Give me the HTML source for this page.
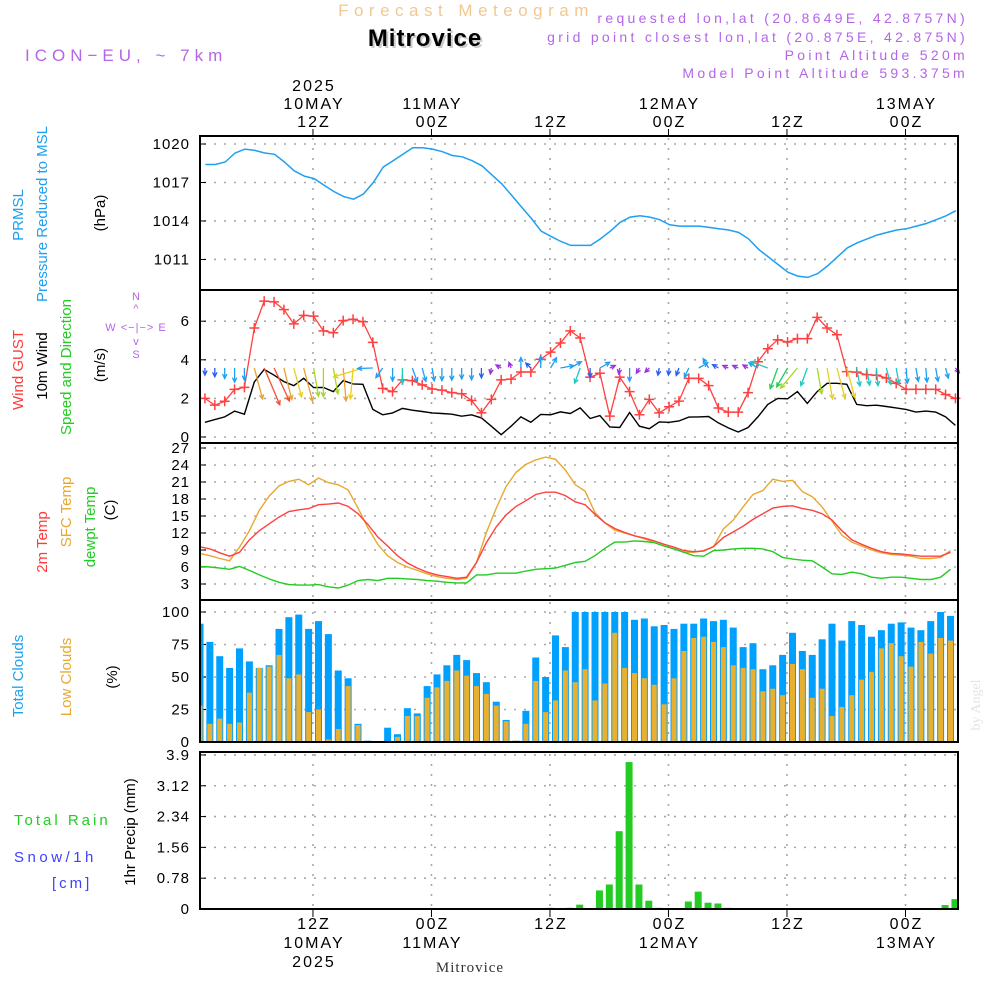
<!DOCTYPE html>
<html><head><meta charset="utf-8">
<style>
html,body{margin:0;padding:0;background:#fff;}
svg{display:block;font-family:"Liberation Sans",sans-serif;}
</style></head>
<body>
<svg id="chart" width="1000" height="1000" viewBox="0 0 1000 1000" xmlns="http://www.w3.org/2000/svg">
  <text x="466" y="16" text-anchor="middle" font-size="17" letter-spacing="5.5" fill="#f2c890">Forecast Meteogram</text>
  <text x="427" y="48" text-anchor="middle" font-size="24" font-weight="bold" fill="#cccccc" letter-spacing="1">Mitrovice</text>
  <text x="425" y="46" text-anchor="middle" font-size="24" font-weight="bold" fill="#000" letter-spacing="1">Mitrovice</text>
  <text x="25" y="61" font-size="17" letter-spacing="5" fill="#b565e8">ICON−EU, ~ 7km</text>
  <g font-size="14" letter-spacing="3.3" fill="#b565e8" text-anchor="end">
    <text x="968" y="23">requested lon,lat (20.8649E, 42.8757N)</text>
    <text x="968" y="42">grid point closest lon,lat (20.875E, 42.875N)</text>
    <text x="968" y="60">Point Altitude 520m</text>
    <text x="968" y="78">Model Point Altitude 593.375m</text>
  </g>
  <text x="980" y="705" font-size="14" fill="#e4e4e4" font-family="Liberation Serif, serif" transform="rotate(-90 980 705)" text-anchor="middle">by Angel</text>

  <g font-size="15">
    <text transform="translate(23,215) rotate(-90)" text-anchor="middle" fill="#1ea0f0">PRMSL</text>
    <text transform="translate(47,214) rotate(-90)" text-anchor="middle" fill="#1ea0f0">Pressure Reduced to MSL</text>
    <text transform="translate(105,213) rotate(-90)" text-anchor="middle" fill="#000">(hPa)</text>
    <text transform="translate(23,370) rotate(-90)" text-anchor="middle" fill="#ff3b3b">Wind GUST</text>
    <text transform="translate(47,366) rotate(-90)" text-anchor="middle" fill="#000">10m Wind</text>
    <text transform="translate(71,367) rotate(-90)" text-anchor="middle" fill="#22cc22">Speed and Direction</text>
    <text transform="translate(105,365) rotate(-90)" text-anchor="middle" fill="#000">(m/s)</text>
    <text transform="translate(47,542) rotate(-90)" text-anchor="middle" fill="#ff3b3b">2m Temp</text>
    <text transform="translate(71,512) rotate(-90)" text-anchor="middle" fill="#e8a830">SFC Temp</text>
    <text transform="translate(95,527) rotate(-90)" text-anchor="middle" fill="#22cc22">dewpt Temp</text>
    <text transform="translate(115,510) rotate(-90)" text-anchor="middle" fill="#000">(C)</text>
    <text transform="translate(23,676) rotate(-90)" text-anchor="middle" fill="#1ea0f0">Total Clouds</text>
    <text transform="translate(71,677) rotate(-90)" text-anchor="middle" fill="#e8a830">Low Clouds</text>
    <text transform="translate(117,677) rotate(-90)" text-anchor="middle" fill="#000">(%)</text>
    <text transform="translate(135,832) rotate(-90)" text-anchor="middle" fill="#000">1hr Precip (mm)</text>
    <text x="14" y="825" fill="#22cc22" letter-spacing="3">Total  Rain</text>
    <text x="14" y="862" fill="#4040ff" letter-spacing="3.5">Snow/1h</text>
    <text x="52" y="888" fill="#4040ff" letter-spacing="3">[cm]</text>
  </g>
  <g fill="#b565e8" font-size="11">
    <text x="136" y="300" text-anchor="middle">N</text>
    <text x="136" y="312" text-anchor="middle">^</text>
    <text x="136" y="331" text-anchor="middle" letter-spacing="1">W &lt;−|−&gt; E</text>
    <text x="136" y="345" text-anchor="middle">v</text>
    <text x="136" y="358" text-anchor="middle">S</text>
  </g>
  <g id="plot"></g>
</svg>
<script>
const timeTickSteps = [11.44, 23.44, 35.44, 47.44, 59.44, 71.44];
const topTickLines = [["2025","10MAY","12Z"],["11MAY","00Z"],["12Z"],["12MAY","00Z"],["12Z"],["13MAY","00Z"]];
const bottomTickLines = [["12Z","10MAY","2025"],["00Z","11MAY"],["12Z"],["00Z","12MAY"],["12Z"],["00Z","13MAY"]];
const pressureTicks = [1020, 1017, 1014, 1011];
const windTicks = [0, 2, 4, 6];
const tempTicks = [3, 6, 9, 12, 15, 18, 21, 24, 27];
const cloudTicks = [0, 25, 50, 75, 100];
const precipTicks = [0, 0.78, 1.56, 2.34, 3.12, 3.9];
const precipTickLabels = ["0", "0.78", "1.56", "2.34", "3.12", "3.9"];

const pressure = [1018.4,1018.4,1018.6,1019.3,1019.6,1019.5,1019.3,1019.2,1018.6,1017.9,1017.5,1017.3,1016.8,1016.3,1015.9,1015.7,1016.1,1017,1018.2,1018.7,1019.2,1019.7,1019.7,1019.6,1019.4,1019.1,1019,1018.7,1018.3,1017.6,1016.9,1016,1015.1,1014.2,1013.2,1012.8,1012.4,1012.1,1012.1,1012.1,1012.6,1013.2,1013.9,1014.3,1014.4,1014.3,1014.1,1013.7,1013.6,1013.6,1013.6,1013.5,1013.4,1013.3,1013.1,1012.6,1011.8,1011.2,1010.6,1010.0,1009.7,1009.6,1009.9,1010.5,1011.2,1011.9,1012.3,1012.6,1012.9,1013.1,1013.3,1013.4,1013.6,1013.8,1014.1,1014.4,1014.8];

const windGust = [2.0,1.65,1.85,2.47,2.57,5.65,7.04,7.0,6.6,5.86,6.3,6.26,5.5,5.4,6.03,6.1,5.97,4.9,2.52,2.35,2.96,2.92,2.7,2.49,2.43,2.3,2.24,1.9,1.25,1.95,2.96,3.0,3.37,3.37,4.03,4.4,4.87,5.5,5.13,3.1,3.3,1.08,3.1,2.35,1.15,1.95,1.25,1.57,1.86,3.04,3.04,2.66,1.5,1.29,1.29,2.3,3.9,4.57,5.04,4.92,5.1,5.1,6.2,5.65,5.3,3.39,3.36,3.23,3.2,3.06,2.78,2.47,2.47,2.47,2.47,2.2,2.0];
const windSpeed = [0.76,0.9,1.04,1.34,1.18,2.85,3.5,3.2,2.87,2.66,3.04,2.56,2.57,2.35,2.92,2.75,2.73,1.43,1.15,1.25,1.48,1.39,1.32,1.25,1.22,1.18,1.08,1.15,0.99,0.56,0.12,0.56,1.04,0.76,1.17,1.15,1.3,1.22,1.51,0.96,1.11,0.52,0.49,1.27,0.56,0.43,0.78,0.76,0.83,1.03,1.04,1.06,0.73,0.47,0.26,0.49,1.04,1.69,2.0,1.98,2.35,1.74,2.35,2.78,2.78,2.73,1.69,1.62,1.65,1.58,1.51,1.43,1.29,1.34,1.29,1.04,0.6];
const windArrowDir = [180,180,180,180,180,165,157,155,166,165,165,170,180,170,175,185,253,268,215,180,180,160,165,170,180,180,180,180,180,190,300,340,0,315,0,30,80,60,200,180,60,65,190,180,210,225,190,185,200,205,60,330,300,295,295,300,300,290,200,210,220,200,170,170,165,165,170,170,175,165,170,175,170,175,170,165,140];

const temp2m = [9.57,9.2,8.5,7.9,8.6,10.8,12.4,13.6,14.8,15.8,16.1,16.3,17,17.1,17.3,16.7,15.4,13.5,11.3,9.7,8,6.7,5.8,5.1,4.6,4.3,4.0,4.2,6.8,10.3,13.1,15.2,16.7,17.7,18.8,19.2,19.2,18.6,17.5,17.0,15.3,13.8,12.8,12.1,11.5,11.1,10.6,10,9.5,8.9,8.7,8.8,9.6,11.2,12.2,13.2,14.4,15.4,16.4,16.7,16.8,16.3,16,15.4,14.3,12.4,10.8,10,9.3,8.7,8.4,8.3,8.1,7.9,7.9,7.9,8.6];
const tempSfc = [8.4,8,7.5,7.1,9.5,12.4,16,18.5,20.3,21.1,21.5,20.5,21.7,20.9,20.5,19.6,16.4,12.9,10,8,6.8,6,5.4,4.8,4.3,4.0,3.8,4.0,6.8,12.1,16.4,20.2,22.7,24.1,24.9,25.4,25,23.1,20.5,19.4,15.6,13.8,12.5,12,11.5,11,10.3,9.7,9.2,8.6,8.6,8.9,9.6,12.7,14.3,16.6,18.8,19.5,21.5,21.1,21.3,19.3,18.4,16.6,14.1,11.6,10.4,9.7,9,8.5,8.2,8.1,7.9,7.5,7.5,7.7,8.9];
const tempDew = [6.1,6.0,5.8,5.6,6.1,5.4,4.6,3.9,3.3,2.9,2.8,2.8,2.9,2.5,2.3,2.8,3.6,3.8,3.6,4.0,4.0,3.9,3.8,3.6,3.5,3.3,3.2,3.2,4.6,4.6,4.9,4.9,4.9,5.3,5.6,5.7,5.8,6.3,6.8,7.0,8.0,9.3,10.4,10.4,10.6,10.5,10.3,9.7,9.2,8.6,8,7.9,8.9,9,9.2,9.3,9.3,9.2,8.7,7.7,7.4,7.2,7.1,6,4.8,4.7,5.1,4.8,4.2,4.0,4.2,4.2,4.0,3.8,3.8,4.2,5.6];

const totalClouds = [91,77,66,57,72,62,57,59,87,96,98,87,93,83,55,49,14,1,0.5,11,6,26,22,43,52,59,67,63,53,46,31,17,1,24,65,50,82,73,100,100,100,100,100,100,94,95,89,90,87,91,91,95,93,94,88,73,76,56,59,67,84,70,67,79,91,78,93,90,81,86,91,92,88,86,93,100,97];
const lowClouds = [28,14,18,14,15,38,57,58,67,49,52,23,25,2,10,43,13,0,0,0.5,4,20,20,34,42,47,55,51,43,37,28,16,1,14,47,23,32,55,46,56,32,45,84,57,53,49,44,29,49,70,80,81,77,73,59,57,56,39,41,36,60,56,34,41,20,27,36,48,54,72,76,66,58,77,68,80,78];

const precip = [0,0,0,0,0,0,0,0,0,0,0,0,0,0,0,0,0,0,0,0,0,0,0,0,0,0,0,0,0,0,0,0,0,0,0,0.03,0,0.03,0.11,0,0.47,0.62,1.97,3.72,0.62,0.21,0.03,0,0,0.19,0.44,0.16,0.14,0.03,0,0,0,0,0,0,0,0,0,0,0,0,0,0,0,0,0,0,0,0,0,0.1,0.25];

const X0 = 200, X1 = 958, STEP = 9.875;
const xs = s => X0 + s * STEP;
const yP = v => 144 + (1020 - v) * 12.83;
const yW = v => 437 - v * 19.3;
const yT = v => 584 - (v - 3) * 5.667;
const yC = v => 742 - v * 1.3;
const yR = v => 909 - v * 39.5;
const panels = [
  {name:"pressure-panel", top:136, bottom:290},
  {name:"wind-panel", top:290, bottom:443},
  {name:"temperature-panel", top:443, bottom:600},
  {name:"clouds-panel", top:600, bottom:742},
  {name:"precip-panel", top:752, bottom:909}
];

const NS = "http://www.w3.org/2000/svg";
const plot = document.getElementById("plot");
function mk(tag, attrs, parent) {
  const e = document.createElementNS(NS, tag);
  for (const k in attrs) e.setAttribute(k, attrs[k]);
  (parent || plot).appendChild(e);
  return e;
}
function txt(x, y, s, attrs, parent) {
  const t = mk("text", Object.assign({x:x, y:y}, attrs), parent);
  t.textContent = s;
  return t;
}
const clip = (v) => Math.max(X0, Math.min(X1, v));

const grid = mk("g", {stroke:"#a8a8a8", "stroke-width":"1.6", "stroke-dasharray":"2,8", fill:"none"});


panels.forEach(p => {
  timeTickSteps.forEach(s => {
    const l = mk("line", {x1:xs(s), x2:xs(s), y1:p.top + 2, y2:p.bottom - 2}, grid);
    
    
  });
});
function hgrid(vals, yf, name) {
  vals.forEach(v => {
    const l = mk("line", {x1:X0 + 4, x2:X1 - 2, y1:yf(v), y2:yf(v)}, grid);
    
    
  });
}
hgrid(pressureTicks, yP, "pressure-gridline");
hgrid(windTicks, yW, "wind-gridline");
hgrid(tempTicks, yT, "temp-gridline");
hgrid(cloudTicks.filter(v => v > 0), yC, "cloud-gridline");
hgrid(precipTicks.filter(v => v > 0), yR, "precip-gridline");

const lab = mk("g", {"font-size":"15", fill:"#000", "text-anchor":"end", "letter-spacing":"1"});


function ylabels(vals, yf, name, labels, xr) {
  vals.forEach((v, i) => {
    const t = txt(xr, yf(v) + 5, labels ? labels[i] : String(v), {}, lab);
    
    
    const tk = mk("line", {x1:X0, x2:X0 + 6, y1:yf(v), y2:yf(v), stroke:"#000", "stroke-width":"1"});
    
    
  });
}
ylabels(pressureTicks, yP, "pressure-tick", null, 190);
ylabels(windTicks, yW, "wind-tick", null, 190);
ylabels(tempTicks, yT, "temp-tick", null, 190);
ylabels(cloudTicks, yC, "cloud-tick", null, 190);
ylabels(precipTicks, yR, "precip-tick", precipTickLabels, 190);

const tl = mk("g", {"font-size":"16", fill:"#000", "text-anchor":"middle", "letter-spacing":"2"});


timeTickSteps.forEach((s, i) => {
  const lines = topTickLines[i];
  lines.forEach((ln, j) => {
    const t = txt(xs(s) + 1, 127 - (lines.length - 1 - j) * 18, ln, {}, tl);
    
    
  });
  bottomTickLines[i].forEach((ln, j) => {
    const t = txt(xs(s) + 1, 929 + j * 19, ln, {}, tl);
    
    
  });
  const a = mk("line", {x1:xs(s), x2:xs(s), y1:129, y2:136, stroke:"#000"});
  
  
  const b = mk("line", {x1:xs(s), x2:xs(s), y1:909, y2:917, stroke:"#000"});
  
  
});
const fl = txt(470, 972, "Mitrovice", {"font-size":"15", "font-family":"Liberation Serif, serif", fill:"#333", "text-anchor":"middle", "letter-spacing":"1"});



function linePath(arr, yf, off) {
  return arr.map((v, i) => (i ? "L" : "M") + clip(xs(i + off)).toFixed(1) + "," + yf(v).toFixed(1)).join("");
}
const pl = mk("path", {d:linePath(pressure, yP, 0.55), stroke:"#1ea0f0", "stroke-width":"1.5", fill:"none"});



const wl = mk("path", {d:linePath(windSpeed, yW, 0.5), stroke:"#000", "stroke-width":"1.4", fill:"none"});


const gl = mk("path", {d:linePath(windGust, yW, 0.5), stroke:"#ff4040", "stroke-width":"1.3", fill:"none"});


windGust.forEach((v, i) => {
  const x = xs(i + 0.5), y = yW(v);
  const m = mk("path", {d:`M${x-5},${y}H${x+5}M${x},${y-5}V${y+5}`, stroke:"#ff4040", "stroke-width":"1.5"});
  
  
});
function windColor(v) {
  if (v < 0.7) return "#9a30e0";
  if (v < 1.0) return "#2a5cf0";
  if (v < 1.45) return "#1ea0f0";
  if (v < 1.8) return "#20c8c0";
  if (v < 2.2) return "#22cc55";
  if (v < 2.6) return "#a8d820";
  if (v < 2.8) return "#e8d020";
  if (v < 3.2) return "#eba030";
  return "#f05030";
}
windArrowDir.forEach((d, i) => {
  const sp = windSpeed[i];
  const len = Math.max(6, sp * 12 - 2);
  const x0 = xs(i + 0.5), y0 = 368;
  const r = d * Math.PI / 180;
  const x1 = x0 + Math.sin(r) * len, y1 = y0 - Math.cos(r) * len;
  const h = 5, a1 = r + Math.PI - 0.45, a2 = r + Math.PI + 0.45;
  const c = windColor(sp);
  const ar = mk("path", {d:`M${x0.toFixed(1)},${y0}L${x1.toFixed(1)},${y1.toFixed(1)}M${(x1+Math.sin(a1)*h).toFixed(1)},${(y1-Math.cos(a1)*h).toFixed(1)}L${x1.toFixed(1)},${y1.toFixed(1)}L${(x1+Math.sin(a2)*h).toFixed(1)},${(y1-Math.cos(a2)*h).toFixed(1)}`, stroke:c, "stroke-width":"1.3", fill:"none"});
  
  
});

const ts = mk("path", {d:linePath(tempSfc, yT, 0), stroke:"#e8a830", "stroke-width":"1.4", fill:"none"});


const t2 = mk("path", {d:linePath(temp2m, yT, 0), stroke:"#ff4040", "stroke-width":"1.4", fill:"none"});


const td = mk("path", {d:linePath(tempDew, yT, 0), stroke:"#22cc22", "stroke-width":"1.4", fill:"none"});



totalClouds.forEach((v, i) => {
  const xc = xs(i);
  const xa = Math.max(X0, xc - 3.5), xb = Math.min(X1, xc + 3.5);
  if (xb <= xa) return;
  const b = mk("rect", {x:xa, y:yC(v), width:xb - xa, height:742 - yC(v), fill:"#00a0ff"});
  
  
});
lowClouds.forEach((v, i) => {
  const xc = xs(i);
  const xa = Math.max(X0, xc - 2.5), xb = Math.min(X1, xc + 2.5);
  if (xb <= xa || v <= 0) return;
  const b = mk("rect", {x:xa, y:yC(v), width:xb - xa, height:742 - yC(v), fill:"#e8b030"});
  
  
});

precip.forEach((v, i) => {
  if (v <= 0) return;
  const xc = xs(i + 0.45);
  const xa = Math.max(X0, xc - 3.5), xb = Math.min(X1, xc + 3.5);
  const b = mk("rect", {x:xa, y:yR(v), width:xb - xa, height:909 - yR(v), fill:"#22cc22"});
  
  
});

panels.forEach(p => {
  const r = mk("rect", {x:X0, y:p.top, width:X1 - X0, height:p.bottom - p.top, fill:"none", stroke:"#000", "stroke-width":"2"});
  
  
});
</script>
</body></html>
